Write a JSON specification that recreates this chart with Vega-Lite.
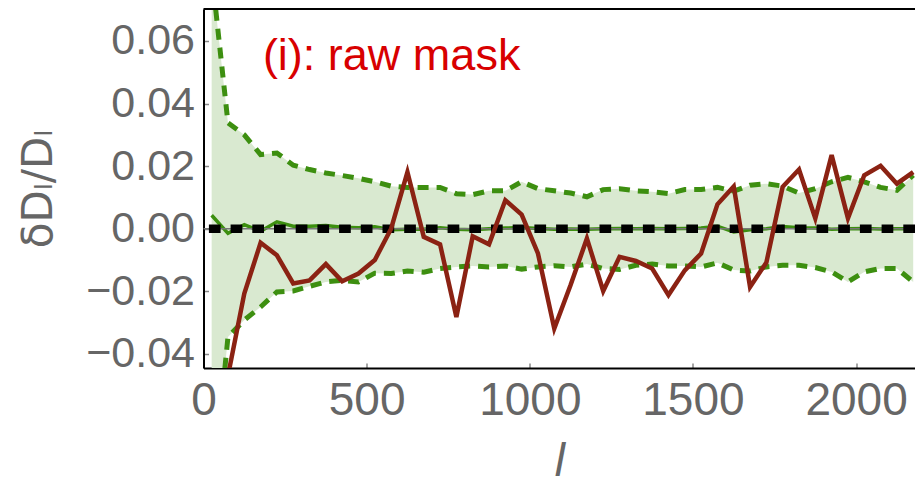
{
  "$schema": "https://vega.github.io/schema/vega-lite/v6.json",
  "autosize": "none",
  "width": 711.5,
  "height": 359,
  "padding": {"left": 203.5, "top": 9, "right": 0, "bottom": 117},
  "background": "white",
  "config": {
    "view": {"stroke": null},
    "font": "Liberation Sans, Arial, DejaVu Sans, sans-serif",
    "axis": {"labelOverlap": false, "labelFlush": false, "grid": false}
  },
  "datasets": {
    "spectra": [
      {"l": 25, "red": -0.12, "upper": 0.082, "lower": -0.087, "mean": 0.0043},
      {"l": 75, "red": -0.047, "upper": 0.0338, "lower": -0.0346, "mean": -0.0015},
      {"l": 125, "red": -0.0207, "upper": 0.03, "lower": -0.0292, "mean": 0.0013},
      {"l": 175, "red": -0.0045, "upper": 0.0237, "lower": -0.025, "mean": -0.0008},
      {"l": 225, "red": -0.0085, "upper": 0.0242, "lower": -0.0202, "mean": 0.0022},
      {"l": 275, "red": -0.0175, "upper": 0.0203, "lower": -0.0199, "mean": 0.0008},
      {"l": 325, "red": -0.0165, "upper": 0.0189, "lower": -0.0184, "mean": 0.0008},
      {"l": 375, "red": -0.0113, "upper": 0.0178, "lower": -0.017, "mean": 0.001},
      {"l": 425, "red": -0.0168, "upper": 0.017, "lower": -0.0165, "mean": 0.0005},
      {"l": 475, "red": -0.0143, "upper": 0.0161, "lower": -0.017, "mean": 0.0003},
      {"l": 525, "red": -0.01, "upper": 0.015, "lower": -0.0142, "mean": 0.0006},
      {"l": 575, "red": 0.0, "upper": 0.0136, "lower": -0.0143, "mean": -0.0003},
      {"l": 625, "red": 0.0181, "upper": 0.0132, "lower": -0.0135, "mean": -0.0002},
      {"l": 675, "red": -0.0026, "upper": 0.0132, "lower": -0.0139, "mean": -0.0002},
      {"l": 725, "red": -0.005, "upper": 0.0132, "lower": -0.0127, "mean": 0.0003},
      {"l": 775, "red": -0.0282, "upper": 0.0112, "lower": -0.0122, "mean": -0.0002},
      {"l": 825, "red": -0.0024, "upper": 0.0109, "lower": -0.0119, "mean": -0.0003},
      {"l": 875, "red": -0.005, "upper": 0.0121, "lower": -0.0122, "mean": 0.0},
      {"l": 925, "red": 0.0091, "upper": 0.0121, "lower": -0.0119, "mean": 0.0002},
      {"l": 975, "red": 0.0045, "upper": 0.015, "lower": -0.0129, "mean": 0.0004},
      {"l": 1025, "red": -0.0079, "upper": 0.0128, "lower": -0.0122, "mean": 0.0001},
      {"l": 1075, "red": -0.0319, "upper": 0.0121, "lower": -0.0118, "mean": -0.0002},
      {"l": 1125, "red": -0.018, "upper": 0.0114, "lower": -0.0122, "mean": -0.0001},
      {"l": 1175, "red": -0.0031, "upper": 0.0102, "lower": -0.0113, "mean": -0.0002},
      {"l": 1225, "red": -0.0199, "upper": 0.0125, "lower": -0.0127, "mean": 0.0},
      {"l": 1275, "red": -0.009, "upper": 0.0128, "lower": -0.013, "mean": 0.0001},
      {"l": 1325, "red": -0.0103, "upper": 0.0121, "lower": -0.0117, "mean": 0.0},
      {"l": 1375, "red": -0.0127, "upper": 0.0118, "lower": -0.0113, "mean": 0.0001},
      {"l": 1425, "red": -0.0212, "upper": 0.0112, "lower": -0.0119, "mean": 0.0},
      {"l": 1475, "red": -0.0133, "upper": 0.0125, "lower": -0.0119, "mean": 0.0001},
      {"l": 1525, "red": -0.0079, "upper": 0.0125, "lower": -0.0122, "mean": 0.0002},
      {"l": 1575, "red": 0.0078, "upper": 0.0132, "lower": -0.0109, "mean": 0.0008},
      {"l": 1625, "red": 0.0135, "upper": 0.012, "lower": -0.0132, "mean": -0.001},
      {"l": 1675, "red": -0.0186, "upper": 0.0139, "lower": -0.0135, "mean": -0.0003},
      {"l": 1725, "red": -0.0108, "upper": 0.0144, "lower": -0.0122, "mean": 0.0},
      {"l": 1775, "red": 0.0134, "upper": 0.0136, "lower": -0.0117, "mean": 0.0007},
      {"l": 1825, "red": 0.0189, "upper": 0.0114, "lower": -0.0117, "mean": 0.0003},
      {"l": 1875, "red": 0.0033, "upper": 0.0128, "lower": -0.0124, "mean": 0.0002},
      {"l": 1925, "red": 0.0235, "upper": 0.015, "lower": -0.0138, "mean": -0.0002},
      {"l": 1975, "red": 0.0033, "upper": 0.0164, "lower": -0.017, "mean": 0.0},
      {"l": 2025, "red": 0.0171, "upper": 0.015, "lower": -0.0138, "mean": 0.0001},
      {"l": 2075, "red": 0.0201, "upper": 0.0132, "lower": -0.0127, "mean": -0.0001},
      {"l": 2125, "red": 0.0144, "upper": 0.0123, "lower": -0.0127, "mean": 0.0},
      {"l": 2175, "red": 0.0181, "upper": 0.0171, "lower": -0.017, "mean": 0.0}
    ],
    "single": [{"label": "(i): raw mask"}]
  },
  "layer": [
    {
      "data": {"name": "spectra"},
      "mark": {"type": "area", "color": "#d9e9d0", "opacity": 1, "clip": true},
      "encoding": {
        "x": {
          "field": "l",
          "type": "quantitative",
          "scale": {"domain": [0, 2180.5], "nice": false, "zero": false},
          "axis": {
            "values": [0, 500, 1000, 1500, 2000],
            "format": "d",
            "title": "l",
            "titleFontStyle": "italic",
            "titleFontWeight": "normal",
            "titleFontSize": 46,
            "titleColor": "#666666",
            "titlePadding": 16,
            "labelFontSize": 46,
            "labelColor": "#666666",
            "labelPadding": 15,
            "labelFlush": false,
            "labelOverlap": false,
            "domainColor": "black",
            "domainWidth": 2,
            "ticks": true,
            "tickSize": -5,
            "tickColor": "#888888",
            "tickWidth": 1.5,
            "grid": false
          }
        },
        "y": {
          "field": "upper",
          "type": "quantitative",
          "scale": {"domain": [-0.0445, 0.0702], "nice": false, "zero": false},
          "axis": {
            "values": [-0.04, -0.02, 0, 0.02, 0.04, 0.06],
            "format": ".2f",
            "title": "δDₗ/Dₗ",
            "titleFont": "DejaVu Sans, Liberation Sans, sans-serif",
            "titleFontSize": 42,
            "titleFontWeight": "normal",
            "titleColor": "#666666",
            "titlePadding": 25,
            "labelFontSize": 43,
            "labelColor": "#666666",
            "labelPadding": 14,
            "labelFlush": false,
            "labelOverlap": false,
            "domainColor": "black",
            "domainWidth": 2,
            "ticks": true,
            "tickSize": -5,
            "tickColor": "#888888",
            "tickWidth": 1.5,
            "grid": false
          }
        },
        "y2": {"field": "lower"}
      }
    },
    {
      "data": {"name": "spectra"},
      "mark": {"type": "line", "color": "#3d8f10", "strokeWidth": 5, "strokeDash": [11, 8], "clip": true},
      "encoding": {
        "x": {"field": "l", "type": "quantitative"},
        "y": {"field": "upper", "type": "quantitative"}
      }
    },
    {
      "data": {"name": "spectra"},
      "mark": {"type": "line", "color": "#3d8f10", "strokeWidth": 5, "strokeDash": [11, 8], "clip": true},
      "encoding": {
        "x": {"field": "l", "type": "quantitative"},
        "y": {"field": "lower", "type": "quantitative"}
      }
    },
    {
      "data": {"name": "spectra"},
      "mark": {"type": "line", "color": "#3d8f10", "strokeWidth": 3.5, "clip": true},
      "encoding": {
        "x": {"field": "l", "type": "quantitative"},
        "y": {"field": "mean", "type": "quantitative"}
      }
    },
    {
      "data": {"name": "single"},
      "mark": {"type": "rule", "color": "#777777", "strokeWidth": 1.5},
      "encoding": {"y": {"datum": 0, "type": "quantitative"}}
    },
    {
      "data": {"name": "single"},
      "mark": {"type": "rule", "color": "black", "strokeWidth": 8.5, "strokeDash": [11.7, 10]},
      "encoding": {"y": {"datum": 0, "type": "quantitative"}}
    },
    {
      "data": {"name": "spectra"},
      "mark": {"type": "line", "color": "#8b2213", "strokeWidth": 4.5, "clip": true},
      "encoding": {
        "x": {"field": "l", "type": "quantitative"},
        "y": {"field": "red", "type": "quantitative"}
      }
    },
    {
      "data": {"name": "single"},
      "mark": {"type": "rule", "color": "black", "strokeWidth": 2},
      "encoding": {"y": {"datum": 0.0702, "type": "quantitative"}}
    },
    {
      "data": {"name": "single"},
      "mark": {"type": "text", "color": "#d80000", "fontSize": 45, "align": "left", "baseline": "alphabetic", "font": "Liberation Sans, Arial, sans-serif"},
      "encoding": {
        "text": {"field": "label"},
        "x": {"datum": 182, "type": "quantitative"},
        "y": {"datum": 0.0506, "type": "quantitative"}
      }
    }
  ]
}
